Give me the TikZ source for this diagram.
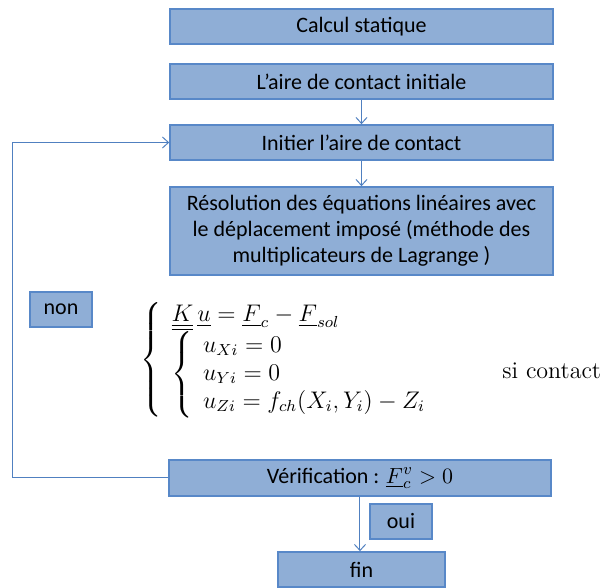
\documentclass[tikz,border=0pt]{standalone}
\usepackage{amsmath,amssymb}
\usepackage{fontspec}
\newfontfamily\boxfont{Carlito}
\usetikzlibrary{positioning,arrows.meta}
\definecolor{boxfill}{RGB}{143,174,214}
\definecolor{boxline}{RGB}{88,136,200}
\definecolor{flowline}{RGB}{80,128,192}

\begin{document}
\begin{tikzpicture}[x=0.5pt,y=-0.5pt]
\tikzset{etape/.style={draw=boxline,line width=0.8pt,fill=boxfill,minimum width=191.5pt,minimum height=17.5pt,font=\boxfont\fontsize{11}{13}\selectfont,align=center,inner sep=0pt},
  petit/.style={etape,minimum width=31pt},
  fleche/.style={draw=flowline,line width=0.5pt,-{Straight Barb[length=3pt,width=5.5pt]}}}
\useasboundingbox (0,0) rectangle (602,588);

\node[etape] (calcul) at (361.5,26.5) {Calcul statique};
\node[etape] (aireinit) at (361.5,81.5) {L’aire de contact initiale};
\node[etape] (initier) at (361.5,142.5) {Initier l’aire de contact};
\node[etape,minimum height=44pt] (resol) at (361.5,231) {Résolution des équations linéaires avec\\le déplacement imposé (méthode des\\multiplicateurs de Lagrange )};
\node[etape,minimum width=191pt,minimum height=18pt] (verif) at (360,478) {Vérification : $\underline{F}_c^v > 0$};
\node[etape,minimum width=83.5pt] (fin) at (361.5,569.5) {fin};
\node[petit] (non) at (61,309.5) {non};
\node[petit] (oui) at (401,521.5) {oui};

% systeme a resoudre
\node[anchor=west,inner sep=0pt,font=\fontsize{12}{14}\selectfont] (systeme) at (140,360) {$\left\{\begin{array}{l}
  \underline{\underline{K}}\,\underline{u} = \underline{F}_c - \underline{F}_{sol}\\
  \left\{\begin{array}{l}
    u_{Xi} = 0\\
    u_{Yi} = 0\\
    u_{Zi} = f_{ch}(X_i,Y_i) - Z_i
  \end{array}\right.
\end{array}\right.$};
\node[anchor=base west,inner sep=0pt,font=\fontsize{12}{14}\selectfont] (sicontact) at (502,379) {si contact};

% liaisons
\draw[fleche] (aireinit.south) -- (initier.north);
\draw[fleche] (initier.south) -- (resol.north);
\draw[fleche] (verif.south) -- (verif.south |- fin.north);
\coordinate (boucle) at (13,478);
\draw[fleche] (verif.west) -- (boucle) |- (initier.west);
\end{tikzpicture}
\end{document}
